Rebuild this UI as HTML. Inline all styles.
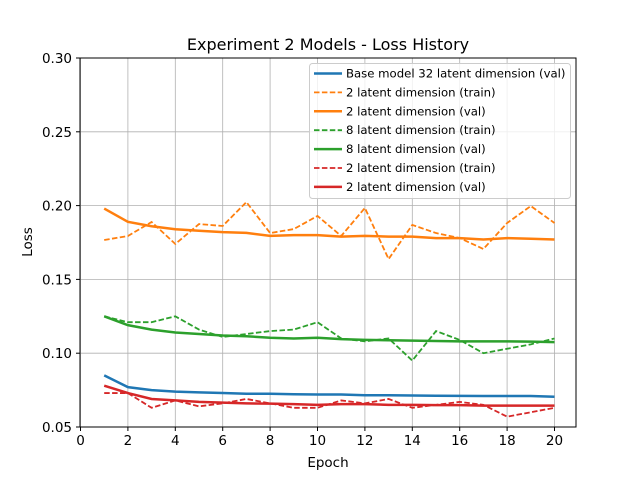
<!DOCTYPE html>
<html><head><meta charset="utf-8"><style>
body{margin:0;background:#fff;font-family:"Liberation Sans","DejaVu Sans",sans-serif;}
svg text{font-family:"DejaVu Sans","Liberation Sans",sans-serif;}
</style></head><body>
<svg id="chart" width="640" height="480" xmlns="http://www.w3.org/2000/svg">
<rect width="640" height="480" fill="#fff"/>
<g id="grid"></g>
<g id="series"></g>
<rect x="80" y="58" width="496" height="369" fill="none" stroke="#000" stroke-width="1"/>
<g id="ticks"></g>
<text x="328" y="50" text-anchor="middle" font-size="16">Experiment 2 Models - Loss History</text>
<text x="328" y="467" text-anchor="middle" font-size="13.5">Epoch</text>
<text transform="translate(32,242) rotate(-90)" text-anchor="middle" font-size="13.5">Loss</text>
<g id="legend"></g>
</svg>
<script>
const epochs=[1,2,3,4,5,6,7,8,9,10,11,12,13,14,15,16,17,18,19,20];
const xTicks=[0,2,4,6,8,10,12,14,16,18,20];
const yTicks=[0.05,0.10,0.15,0.20,0.25,0.30];
const yTickLabels=["0.05","0.10","0.15","0.20","0.25","0.30"];
const blueVal=[0.085,0.077,0.075,0.074,0.0735,0.073,0.0725,0.0725,0.0722,0.072,0.072,0.0715,0.0715,0.0713,0.0712,0.0711,0.071,0.071,0.071,0.0705];
const orangeTrain=[0.1767,0.1794,0.1889,0.174,0.1875,0.1862,0.2024,0.1814,0.1841,0.193,0.1794,0.1984,0.1638,0.1869,0.1814,0.178,0.1706,0.1882,0.1997,0.1882];
const orangeVal=[0.198,0.189,0.186,0.184,0.183,0.182,0.1815,0.1795,0.180,0.180,0.179,0.1795,0.179,0.179,0.178,0.178,0.177,0.178,0.1775,0.177];
const greenTrain=[0.125,0.121,0.121,0.125,0.116,0.111,0.113,0.115,0.116,0.121,0.110,0.108,0.110,0.095,0.115,0.109,0.100,0.103,0.106,0.110];
const greenVal=[0.125,0.119,0.116,0.114,0.113,0.112,0.1115,0.1105,0.110,0.1105,0.1095,0.109,0.1088,0.1085,0.1083,0.108,0.108,0.108,0.1078,0.1075];
const redTrain=[0.073,0.073,0.063,0.068,0.064,0.066,0.069,0.066,0.063,0.063,0.068,0.066,0.069,0.063,0.065,0.067,0.065,0.057,0.060,0.063];
const redVal=[0.078,0.073,0.069,0.068,0.067,0.0665,0.066,0.0658,0.0655,0.065,0.0655,0.0655,0.065,0.065,0.0648,0.0648,0.0645,0.0645,0.0645,0.0645];
const seriesNames=["Base model 32 latent dimension (val)","2 latent dimension (train)","2 latent dimension (val)","8 latent dimension (train)","8 latent dimension (val)","2 latent dimension (train)","2 latent dimension (val)"];
const NS="http://www.w3.org/2000/svg";
function X(v){return 80.5+v*23.7;}
function Y(v){return 58+(0.30-v)*1476;}
function mk(t,a,p){const e=document.createElementNS(NS,t);for(const k in a)e.setAttribute(k,a[k]);p.appendChild(e);return e;}
const grid=document.getElementById('grid'),ticks=document.getElementById('ticks'),ser=document.getElementById('series'),leg=document.getElementById('legend');
xTicks.forEach(t=>{
 const g=mk('line',{x1:X(t),x2:X(t),y1:58,y2:427,stroke:'#b0b0b0','stroke-width':0.8},grid);
 
 mk('line',{x1:X(t),x2:X(t),y1:427,y2:431,stroke:'#000'},ticks);
 const tx=mk('text',{x:X(t),y:445,'text-anchor':'middle','font-size':13.5},ticks);tx.textContent=t;
 
});
yTicks.forEach((t,i)=>{
 const g=mk('line',{x1:80,x2:576,y1:Y(t),y2:Y(t),stroke:'#b0b0b0','stroke-width':0.8},grid);
 
 mk('line',{x1:76,x2:80,y1:Y(t),y2:Y(t),stroke:'#000'},ticks);
 const tx=mk('text',{x:72,y:Y(t)+5,'text-anchor':'end','font-size':13.5},ticks);tx.textContent=yTickLabels[i];
 
});
const defs=[[blueVal,'#1f77b4',false],[orangeTrain,'#ff7f0e',true],[orangeVal,'#ff7f0e',false],[greenTrain,'#2ca02c',true],[greenVal,'#2ca02c',false],[redTrain,'#d62728',true],[redVal,'#d62728',false]];
defs.forEach((d,i)=>{
 const pts=epochs.map((e,j)=>X(e)+','+Y(d[0][j])).join(' ');
 const p=mk('polyline',{points:pts,fill:'none',stroke:d[1],'stroke-width':d[2]?1.8:2.5,'stroke-dasharray':d[2]?'5.5,2.4':'none'},ser);
 
});
const lb=mk('rect',{x:309.5,y:63.5,width:261,height:135,rx:3,fill:'#fff','fill-opacity':0.8,stroke:'#ccc'},leg);

defs.forEach((d,i)=>{
 const y=73.5+i*18.9;
 const l=mk('line',{x1:314,x2:342,y1:y,y2:y,stroke:d[1],'stroke-width':d[2]?1.8:2.5,'stroke-dasharray':d[2]?'5.5,2.4':'none'},leg);
 
 const t=mk('text',{x:346,y:y+4,'font-size':11.7},leg);t.textContent=seriesNames[i];
 
});
</script>
</body></html>
